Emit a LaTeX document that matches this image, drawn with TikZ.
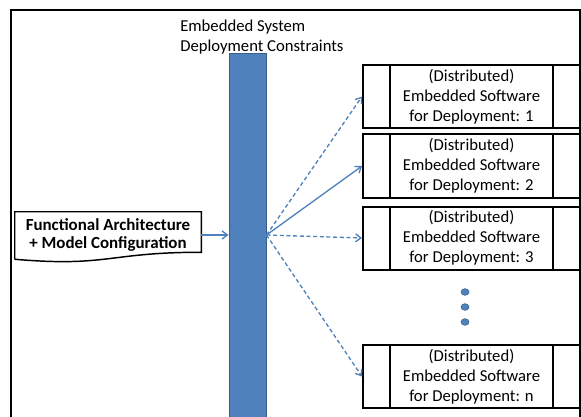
\documentclass[tikz,border=0pt]{standalone}
\usepackage{fontspec}
\setmainfont{Carlito}
\usetikzlibrary{arrows.meta,calc,shapes.geometric}

\definecolor{barblue}{HTML}{4F81BD}
\definecolor{bardark}{HTML}{385D8A}

\begin{document}
\begin{tikzpicture}[x=0.75pt, y=-0.75pt,
    swbox/.style={draw, line width=1.5pt, minimum width=162.75pt, minimum height=47.25pt,
        align=center, inner sep=0pt, font=\fontsize{12.5}{15}\selectfont,
        path picture={
            \draw[line width=1.5pt] ([xshift=20.25pt]path picture bounding box.north west)
                -- ([xshift=20.25pt]path picture bounding box.south west);
            \draw[line width=1.5pt] ([xshift=-20.25pt]path picture bounding box.north east)
                -- ([xshift=-20.25pt]path picture bounding box.south east);
        }},
    flow/.style={barblue, line width=1pt, -{Straight Barb[length=4pt,width=6pt]}},
    flowdash/.style={flow, dash pattern=on 3pt off 2pt},
    dotn/.style={ellipse, fill=barblue, draw=bardark, line width=0.4pt, inner sep=0pt,
        minimum width=6pt, minimum height=5pt}]
    \useasboundingbox (0,0) rectangle (581,417);
    \clip (0,0) rectangle (581,417);

    % moldura
    \draw[line width=1.1pt] (11,10) rectangle (580,440);

    % barra de restricoes
    \node[fill=barblue, draw=bardark, line width=0.75pt, minimum width=27.75pt,
        minimum height=282pt, inner sep=0pt] (bar) at (247.5,242) {};
    \node[anchor=west, align=left, inner sep=0pt, font=\fontsize{12.5}{14.5}\selectfont]
        (title) at (180,37) {Embedded System\\Deployment Constraints};

    % documento de entrada
    \node[minimum width=139.5pt, minimum height=34.5pt, inner sep=0pt, align=center,
        font=\bfseries\fontsize{12.7}{13.5}\selectfont] (func) at (108,235)
        {Functional Architecture\\+ Model Configuration};
    \draw[line width=1.1pt] ($(func.south west)+(0,1)$) -- (func.north west) -- (func.north east)
        -- ($(func.south east)+(0,-6)$) .. controls ($(func.south)+(0,-6)$) and ($(func.south)+(0,9)$)
        .. ($(func.south west)+(0,1)$);
    \draw[flow] (func.east) -- (func.east -| bar.west);
    \coordinate (hub) at (func.east -| bar.east);

    % software embarcado
    \node[swbox] (sw1) at (471.5,96.5) {(Distributed)\\Embedded Software\\for Deployment: 1};
    \node[swbox] (sw2) at (471.5,166) {(Distributed)\\Embedded Software\\for Deployment: 2};
    \node[swbox] (sw3) at (471.5,238) {(Distributed)\\Embedded Software\\for Deployment: 3};
    \node[swbox] (swn) at (471.5,376.5) {(Distributed)\\Embedded Software\\for Deployment: n};

    \foreach \i/\y in {1/292,2/307,3/322}
        \node[dotn] (dot\i) at (465,\y) {};

    % ligacoes
    \draw[flowdash] (hub) -- (sw1.west);
    \draw[flow] (hub) -- (sw2.west);
    \draw[flowdash] (hub) -- (sw3.west);
    \draw[flowdash] (hub) -- (swn.west);

\end{tikzpicture}
\end{document}
